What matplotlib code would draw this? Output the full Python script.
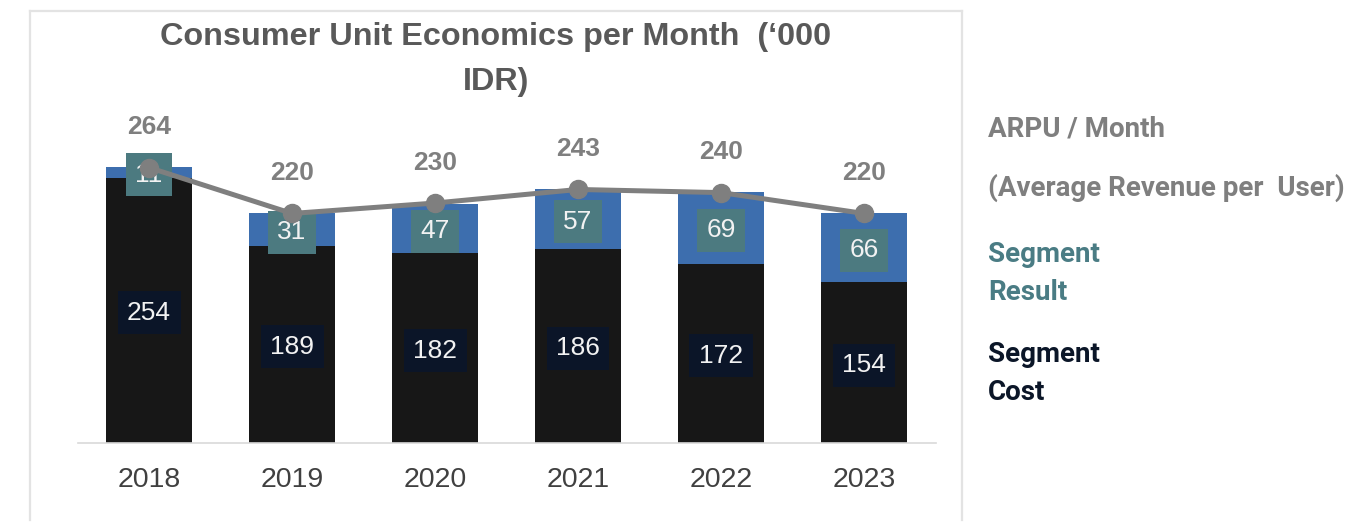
import matplotlib
matplotlib.use("Agg")
import matplotlib.pyplot as plt
from matplotlib.lines import Line2D

years = ["2018", "2019", "2020", "2021", "2022", "2023"]
segment_cost = [254, 189, 182, 186, 172, 154]
segment_result = [11, 31, 47, 57, 69, 66]
arpu = [264, 220, 230, 243, 240, 220]

W, H = 1372, 532
fig = plt.figure(figsize=(W / 100, H / 100), dpi=100)
fig.patch.set_facecolor("white")

# chart frame
fc = "#e3e3e3"
def fx(px): return px / W
def fy(py): return 1 - py / H
fig.add_artist(Line2D([fx(30), fx(30)], [fy(520), fy(11)], color=fc, lw=1.6, transform=fig.transFigure))
fig.add_artist(Line2D([fx(30), fx(962)], [fy(11), fy(11)], color=fc, lw=1.6, transform=fig.transFigure))
fig.add_artist(Line2D([fx(962), fx(962)], [fy(11), fy(520)], color=fc, lw=1.6, transform=fig.transFigure))

ax = fig.add_axes([77.5 / W, (H - 443) / H, 858 / W, 313 / H])
ax.set_xlim(-0.5, 5.5)
ax.set_ylim(0, 300)
x = list(range(len(years)))

ax.bar(x, segment_cost, width=0.6, color="#171717", zorder=2)
ax.bar(x, segment_result, width=0.6, bottom=segment_cost, color="#3d6eae", zorder=2)

num_font = "Liberation Sans"
for i in x:
    ax.text(i, segment_cost[i] / 2, str(segment_cost[i]), ha="center", va="center_baseline",
            fontsize=19, color="#f2f2f2", family=num_font, zorder=4,
            bbox=dict(boxstyle="square,pad=0.36", fc="#0b1528", ec="none"))
    ax.text(i, segment_cost[i] + segment_result[i] / 2, str(segment_result[i]), ha="center",
            va="center_baseline", fontsize=19, color="#f2f2f2", family=num_font, zorder=4,
            bbox=dict(boxstyle="square,pad=0.36", fc="#4c7a80", ec="none"))

ax.plot(x, arpu, color="#7f7f7f", lw=3.6, marker="o", markersize=13, zorder=5)
for i in x:
    ax.annotate(str(arpu[i]), (i, arpu[i]), xytext=(0, 29), textcoords="offset points",
                ha="center", va="center", fontsize=19, fontweight="bold",
                color="#7f7f7f", family=num_font, zorder=6)

for s in ["top", "right", "left"]:
    ax.spines[s].set_visible(False)
ax.spines["bottom"].set_color("#d9d9d9")
ax.spines["bottom"].set_linewidth(1.2)
ax.set_yticks([])
ax.set_xticks(x)
ax.set_xticklabels(years, fontsize=20.5, color="#404040", family=num_font)
ax.tick_params(axis="x", length=0, pad=17.5)

fig.text(fx(496), fy(37), "Consumer Unit Economics per Month  (\u2018000", ha="center", va="center",
         fontsize=23.3, fontweight="bold", color="#595959", family="Liberation Sans")
fig.text(fx(496), fy(82), "IDR)", ha="center", va="center",
         fontsize=23.3, fontweight="bold", color="#595959", family="Liberation Sans")

rf = "Roboto"
fs = 20
fig.text(fx(988), fy(129), "ARPU / Month", ha="left", va="center", fontsize=fs,
         fontweight="bold", color="#7f7f7f", family=rf)
fig.text(fx(988), fy(188), "(Average Revenue per  User)", ha="left", va="center", fontsize=fs,
         fontweight="bold", color="#7f7f7f", family=rf)
fig.text(fx(988), fy(255), "Segment", ha="left", va="center", fontsize=fs,
         fontweight="bold", color="#4a7c84", family=rf)
fig.text(fx(988), fy(292), "Result", ha="left", va="center", fontsize=fs,
         fontweight="bold", color="#4a7c84", family=rf)
fig.text(fx(988), fy(355), "Segment", ha="left", va="center", fontsize=fs,
         fontweight="bold", color="#0b1628", family=rf)
fig.text(fx(988), fy(392), "Cost", ha="left", va="center", fontsize=fs,
         fontweight="bold", color="#0b1628", family=rf)

fig.savefig("out.png", dpi=100, facecolor="white")
